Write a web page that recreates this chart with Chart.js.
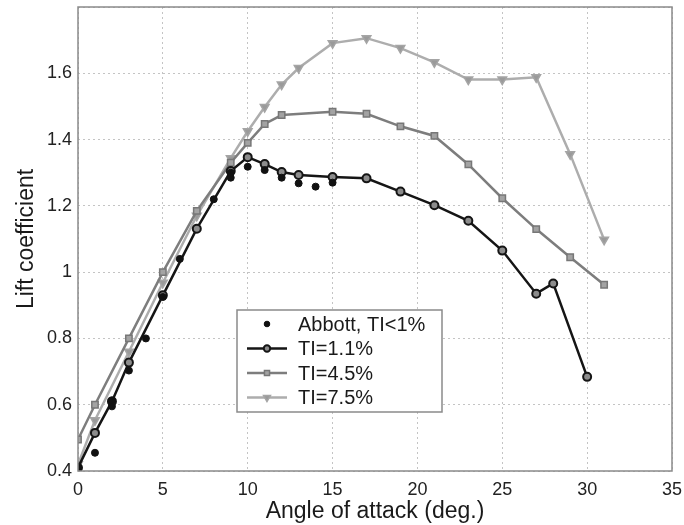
<!DOCTYPE html>
<html>
<head>
<meta charset="utf-8">
<script src="https://cdn.jsdelivr.net/npm/chart.js@4.4.1/dist/chart.umd.min.js"></script>
<style>
  html, body { margin: 0; padding: 0; background: #fff; }
  #wrap { width: 684px; height: 525px; }
</style>
</head>
<body>
<div id="wrap"><canvas id="lift"></canvas></div>
<script>
// lift coefficient vs angle of attack

const abbottAngle = [0, 1, 2, 2, 3, 4, 5, 6, 8, 9, 9, 10, 11, 12, 13, 14, 15];
const abbottCl    = [0.41, 0.455, 0.595, 0.613, 0.703, 0.80, 0.925, 1.04, 1.22, 1.285, 1.30, 1.318, 1.308, 1.285, 1.268, 1.258, 1.27];

const ti11Angle = [0, 1, 2, 3, 5, 7, 9, 10, 11, 12, 13, 15, 17, 19, 21, 23, 25, 27, 28, 30];
const ti11Cl    = [0.41, 0.515, 0.61, 0.727, 0.93, 1.131, 1.305, 1.347, 1.326, 1.302, 1.293, 1.287, 1.283, 1.243, 1.202, 1.155, 1.065, 0.935, 0.966, 0.684];

const ti45Angle = [0, 1, 3, 5, 7, 9, 10, 11, 12, 15, 17, 19, 21, 23, 25, 27, 29, 31];
const ti45Cl    = [0.495, 0.60, 0.80, 1.0, 1.185, 1.33, 1.39, 1.447, 1.474, 1.484, 1.478, 1.44, 1.411, 1.325, 1.223, 1.13, 1.045, 0.962];

const ti75Angle = [0, 1, 3, 5, 7, 9, 10, 11, 12, 13, 15, 17, 19, 21, 23, 25, 27, 29, 31];
const ti75Cl    = [0.42, 0.553, 0.76, 0.968, 1.17, 1.344, 1.425, 1.498, 1.566, 1.616, 1.691, 1.706, 1.676, 1.633, 1.581, 1.581, 1.588, 1.356, 1.098];

const xTicks = [0, 5, 10, 15, 20, 25, 30, 35];
const yTicks = [0.4, 0.6, 0.8, 1, 1.2, 1.4, 1.6];

const seriesNames = ["Abbott, TI<1%", "TI=1.1%", "TI=4.5%", "TI=7.5%"];

const FONT = "'Liberation Sans', Arial, Helvetica, sans-serif";

function pairs(xs, ys){
  return xs.map((x, i) => ({x, y: ys[i]}));
}

// solid box round the plot, like the matlab axes
const frame = {
  id: "frame",
  afterDatasetsDraw(chart){
    const {ctx, chartArea: a} = chart;
    ctx.save();
    ctx.strokeStyle = "#8a8a8a";
    ctx.lineWidth = 1.5;
    ctx.strokeRect(a.left, a.top, a.right - a.left, a.bottom - a.top);
    ctx.restore();
  }
};

// legend box inside the axes
const boxLegend = {
  id: "boxLegend",
  afterDraw(chart){
    const {ctx, chartArea: a} = chart;
    const x0 = a.left + 159, y0 = a.top + 303, w = 205, h = 102;
    ctx.save();
    ctx.fillStyle = "#fff";
    ctx.fillRect(x0, y0, w, h);
    ctx.strokeStyle = "#8a8a8a";
    ctx.lineWidth = 1.5;
    ctx.strokeRect(x0, y0, w, h);
    ctx.font = "20px " + FONT;
    ctx.textBaseline = "middle";
    chart.data.datasets.forEach((ds, i) => {
      const cy = y0 + 14 + i * 24.5;
      const lx1 = x0 + 10, lx2 = x0 + 50, mx = (lx1 + lx2) / 2;
      if(ds.showLine !== false){
        ctx.strokeStyle = ds.borderColor;
        ctx.lineWidth = ds.borderWidth;
        ctx.beginPath();
        ctx.moveTo(lx1, cy);
        ctx.lineTo(lx2, cy);
        ctx.stroke();
      }
      ctx.fillStyle = ds.pointBackgroundColor;
      ctx.strokeStyle = ds.pointBorderColor;
      ctx.lineWidth = ds.pointBorderWidth || 1;
      Chart.helpers.drawPoint(ctx, {
        pointStyle: ds.pointStyle,
        rotation: ds.pointRotation || 0,
        radius: ds.pointRadius * 0.8,
        borderWidth: ds.pointBorderWidth || 1
      }, mx, cy);
      ctx.fillStyle = "#1a1a1a";
      ctx.fillText(seriesNames[i], x0 + 61, cy + 1);
    });
    ctx.restore();
  }
};

const ctx = document.getElementById("lift").getContext("2d");
new Chart(ctx, {
  type: "line",
  data: {
    datasets: [
      {
        label: seriesNames[0],
        data: pairs(abbottAngle, abbottCl),
        showLine: false,
        pointStyle: "circle",
        pointRadius: 3.5,
        pointBorderWidth: 1,
        pointBackgroundColor: "#111",
        pointBorderColor: "#111",
        borderColor: "#111",
        borderWidth: 0
      },
      {
        label: seriesNames[1],
        data: pairs(ti11Angle, ti11Cl),
        borderColor: "#151515",
        borderWidth: 2.5,
        pointStyle: "circle",
        pointRadius: 4,
        pointBorderWidth: 2,
        pointBackgroundColor: "#8c8c8c",
        pointBorderColor: "#151515"
      },
      {
        label: seriesNames[2],
        data: pairs(ti45Angle, ti45Cl),
        borderColor: "#7d7d7d",
        borderWidth: 2.5,
        pointStyle: "rect",
        pointRadius: 4.5,
        pointBorderWidth: 1.5,
        pointBackgroundColor: "#a3a3a3",
        pointBorderColor: "#777"
      },
      {
        label: seriesNames[3],
        data: pairs(ti75Angle, ti75Cl),
        borderColor: "#adadad",
        borderWidth: 2.5,
        pointStyle: "triangle",
        pointRotation: 180,
        pointRadius: 5,
        pointBorderWidth: 1.5,
        pointBackgroundColor: "#9a9a9a",
        pointBorderColor: "#a5a5a5"
      }
    ]
  },
  options: {
    responsive: true,
    maintainAspectRatio: false,
    animation: false,
    layout: { padding: { left: 0, right: 12, top: 7, bottom: 0 } },
    plugins: {
      legend: { display: false },
      tooltip: { enabled: false }
    },
    scales: {
      x: {
        type: "linear",
        min: 0,
        max: 35,
        afterBuildTicks: s => { s.ticks = xTicks.map(v => ({value: v})); },
        afterFit: s => { s.height = 54; s.paddingLeft = 0; s.paddingRight = 0; },
        ticks: { color: "#222", font: { family: FONT, size: 18 }, padding: 8 },
        grid: { color: "#c4c4c4", drawTicks: false },
        border: { display: false, dash: [2, 3] },
        title: {
          display: true,
          text: "Angle of attack (deg.)",
          color: "#1a1a1a",
          font: { family: FONT, size: 23 },
          padding: { top: 0, bottom: 0 }
        }
      },
      y: {
        type: "linear",
        min: 0.4,
        max: 1.8,
        afterBuildTicks: s => { s.ticks = yTicks.concat([1.8]).map(v => ({value: v})); },
        afterFit: s => { s.width = 78; s.paddingTop = 0; s.paddingBottom = 0; },
        ticks: {
          color: "#222",
          font: { family: FONT, size: 18 },
          padding: 6,
          callback: v => Math.abs(v - 1.8) < 1e-6 ? "" : (Math.abs(v - 1) < 1e-6 ? "1" : v.toFixed(1))
        },
        grid: { color: "#c4c4c4", drawTicks: false },
        border: { display: false, dash: [2, 3] },
        title: {
          display: true,
          text: "Lift coefficient",
          color: "#1a1a1a",
          font: { family: FONT, size: 23 },
          padding: { top: 13, bottom: 0 }
        }
      }
    }
  },
  plugins: [frame, boxLegend]
});
</script>
</body>
</html>
